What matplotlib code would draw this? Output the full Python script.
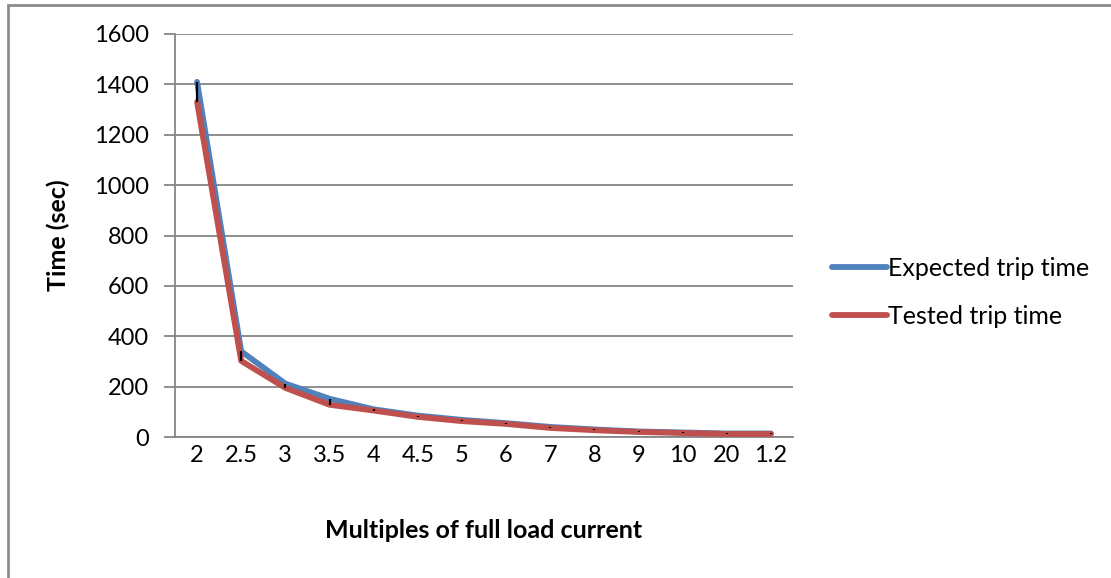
import matplotlib
matplotlib.use("Agg")
import matplotlib.pyplot as plt
import numpy as np
from matplotlib.patches import Rectangle

CATEGORIES = ["2", "2.5", "3", "3.5", "4", "4.5", "5", "6", "7", "8", "9", "10", "20", "1.2"]
EXPECTED = [1410, 340, 212, 152, 110, 85, 68, 55, 40, 30, 22, 18, 14, 14]
TESTED = [1330, 302, 195, 128, 105, 80, 63, 52, 36, 27, 20, 16, 12, 12]
Y_TICKS = [0, 200, 400, 600, 800, 1000, 1200, 1400, 1600]

BLUE = "#4f81bd"
RED = "#c0504d"
GRID = "#868686"
TICK_FS = 17
LABEL_FS = 18

plt.rcParams["font.family"] = ["Lato", "DejaVu Sans"]

fig = plt.figure(figsize=(11.11, 5.78), dpi=100)
ax = fig.add_axes([175 / 1111, 1 - 437 / 578, 618 / 1111, 403 / 578])

# chart frame (left and top edges visible)
fig.patches.append(Rectangle((8 / 1111, -0.1), 1.2, 1 - 5 / 578 + 0.1,
                             transform=fig.transFigure, fill=False,
                             edgecolor="#8c8c8c", linewidth=2))

x = np.arange(len(CATEGORIES))
ax.plot(x, EXPECTED, color=BLUE, linewidth=4.2, solid_capstyle="round",
        solid_joinstyle="round", label="Expected trip time", zorder=3)
ax.plot(x, TESTED, color=RED, linewidth=4.2, solid_capstyle="round",
        solid_joinstyle="round", label="Tested trip time", zorder=4)
# high-low lines
ax.vlines(x, TESTED, EXPECTED, color="black", linewidth=1.6, zorder=5)

ax.set_xlim(-0.5, len(CATEGORIES) - 0.5)
ax.set_ylim(0, 1600)
ax.set_yticks(Y_TICKS)
ax.set_xticks(x)
ax.set_xticklabels(CATEGORIES)
ax.yaxis.grid(True, color=GRID, linewidth=1.3)
ax.set_axisbelow(True)

for s in ["top", "right"]:
    ax.spines[s].set_visible(False)
for s in ["left", "bottom"]:
    ax.spines[s].set_color(GRID)
    ax.spines[s].set_linewidth(1.3)

ax.tick_params(axis="y", length=8, width=1.3, color=GRID, labelsize=TICK_FS, pad=11)
ax.tick_params(axis="x", length=0, labelsize=TICK_FS, pad=6)

ax.set_ylabel("Time (sec)", fontsize=LABEL_FS, fontweight="bold")
ax.yaxis.set_label_coords((58 - 175) / 618, 0.5)
ax.set_xlabel("Multiples of full load current", fontsize=LABEL_FS, fontweight="bold")
ax.xaxis.set_label_coords(0.5, (437 - 530) / 403)
ax.xaxis.label.set_va("center")
ax.yaxis.label.set_va("center")

ax.legend(loc="center left", bbox_to_anchor=((832 - 175) / 618, (437 - 292) / 403),
          frameon=False, fontsize=LABEL_FS, handlelength=2.2, handletextpad=0.05,
          labelspacing=1.0, borderpad=0, borderaxespad=0)

fig.savefig("out.png", dpi=100, facecolor="white")
